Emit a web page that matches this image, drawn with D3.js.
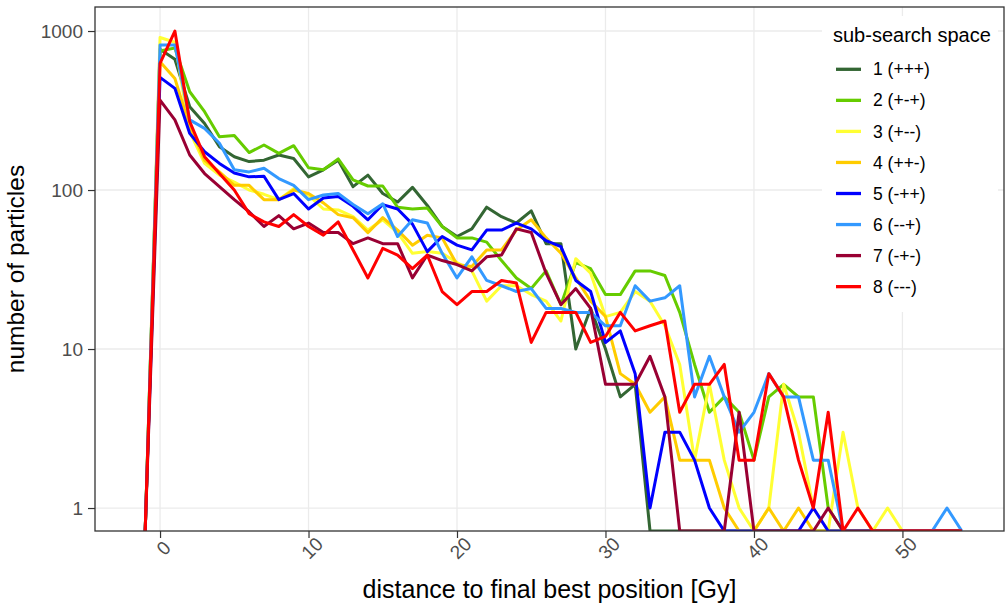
<!DOCTYPE html>
<html>
<head>
<meta charset="utf-8">
<script src="https://cdn.jsdelivr.net/npm/d3@7"></script>
<style>
body { margin: 0; background: #fff; }
text { font-family: "Liberation Sans", Arial, sans-serif; }
</style>
</head>
<body>
<svg id="chart" width="1005" height="604"></svg>
<script>
var distance = [-1,0,1,2,3,4,5,6,7,8,9,10,11,12,13,14,15,16,17,18,19,20,21,22,23,24,25,26,27,28,29,30,31,32,33,34,35,36,37,38,39,40,41,42,43,44,45,46,47,48,49,50,51,52,53,54];

var space1 = [0,767,664,334,262,187,162,151,154,166,158,121,134,154,105,124,95,84,104,80,59,51,57,78,68,62,74,46,46,10,18,10,5,6,0,0,0,0,0,0,0,0,0,0,0,0,0,0,0,0,0,0,0,0,0,0];
var space2 = [0,750,782,415,311,216,220,172,192,170,190,138,134,157,116,106,106,78,76,77,59,50,50,47,36,28,24,31,19,35,32,22,22,31,31,29,17,8,4,5,4,2,5,6,5,5,1,0,0,0,0,0,0,0,0,0];
var space3 = [0,910,850,233,147,124,112,100,94,87,102,93,76,75,68,56,65,54,40,41,40,35,31,20,25,25,22,20,15,37,30,16,17,23,20,14,8,2,6,2,1,0,1,6,3,1,0,3,1,0,1,0,0,0,0,0];
var space4 = [0,641,503,251,154,130,107,107,87,87,100,95,83,70,67,54,67,56,45,52,50,34,33,42,42,56,65,50,40,28,20,16,7,6,4,5,2,2,2,1,0,0,1,0,1,0,0,0,0,0,0,0,0,0,0,0];
var space5 = [0,511,436,227,174,147,128,121,122,87,95,76,89,91,79,65,81,76,61,41,51,45,42,56,56,62,57,48,44,27,23,11,13,7,1,3,3,2,1,0,0,0,0,0,0,1,0,0,0,0,0,0,0,0,0,0];
var space6 = [0,817,817,276,244,197,134,130,137,118,107,87,93,95,81,71,82,51,65,62,40,28,38,27,25,23,24,18,18,17,17,14,14,25,20,21,25,5,9,5,3,4,7,5,5,2,2,0,0,0,0,0,0,0,1,0];
var space7 = [0,368,276,166,127,105,87,73,59,69,57,62,54,54,46,50,46,46,28,39,36,34,31,38,39,57,54,30,19,24,18,6,6,6,9,5,0,0,0,0,4,0,0,0,0,0,1,0,0,0,0,0,0,0,0,0];
var space8 = [0,627,1000,269,162,127,100,71,63,59,70,59,52,63,42,28,43,39,32,39,23,19,23,23,27,26,11,17,17,17,11,12,17,13,14,15,4,6,6,8,2,2,7,5,2,1,4,0,1,0,0,0,0,0,0,0];

var seriesNames = ["1 (+++)", "2 (+-+)", "3 (+--)", "4 (++-)", "5 (-++)", "6 (--+)", "7 (-+-)", "8 (---)"];
var seriesColors = ["#336633", "#66CC00", "#FFFF33", "#FFCC00", "#0000FF", "#3399FF", "#990033", "#FF0000"];
var allSeries = [space1, space2, space3, space4, space5, space6, space7, space8];

var yTicks = [1, 10, 100, 1000];
var xTicks = [0, 10, 20, 30, 40, 50];

var plot = {left: 95, right: 1004, top: 7, bottom: 531};

var svg = d3.select("#chart");

var x = d3.scaleLinear()
	.domain([-4.38, 56.84])
	.range([plot.left, plot.right]);

var y = d3.scaleLog()
	.domain([0.717, 1416])
	.range([plot.bottom, plot.top]);

svg.append("defs").append("clipPath")
	.attr("id", "panel")
	.append("rect")
	.attr("x", plot.left)
	.attr("y", plot.top)
	.attr("width", plot.right - plot.left)
	.attr("height", plot.bottom - plot.top);

// grid
svg.append("g").selectAll("line")
	.data(yTicks)
	.enter()
	.append("line")
	.attr("x1", plot.left).attr("x2", plot.right)
	.attr("y1", function(d){ return y(d); })
	.attr("y2", function(d){ return y(d); })
	.attr("stroke", "#EBEBEB")
	.attr("stroke-width", 1.3);

svg.append("g").selectAll("line")
	.data(xTicks)
	.enter()
	.append("line")
	.attr("y1", plot.top).attr("y2", plot.bottom)
	.attr("x1", function(d){ return x(d); })
	.attr("x2", function(d){ return x(d); })
	.attr("stroke", "#EBEBEB")
	.attr("stroke-width", 1.3);

// lines
var lineGen = d3.line()
	.x(function(d){ return x(d[0]); })
	.y(function(d){ return d[1] > 0 ? y(d[1]) : plot.bottom; });

svg.append("g")
	.attr("clip-path", "url(#panel)")
	.selectAll("path")
	.data(allSeries)
	.enter()
	.append("path")
	.attr("d", function(s){ return lineGen(s.map(function(v, i){ return [distance[i], v]; })); })
	.attr("fill", "none")
	.attr("stroke", function(s, i){ return seriesColors[i]; })
	.attr("stroke-width", 3)
	.attr("stroke-linejoin", "round");

// axes
var yAxis = svg.append("g")
	.attr("transform", "translate(" + plot.left + ",0)")
	.call(d3.axisLeft(y).tickValues(yTicks).tickFormat(d3.format("d")).tickSize(7).tickPadding(5));

var xAxis = svg.append("g")
	.attr("transform", "translate(0," + plot.bottom + ")")
	.call(d3.axisBottom(x).tickValues(xTicks).tickSize(7));

[yAxis, xAxis].forEach(function(ax){
	ax.select(".domain").remove();
	ax.selectAll(".tick line").attr("stroke", "#333333").attr("stroke-width", 1.2);
	ax.selectAll(".tick text")
		.attr("fill", "#4D4D4D")
		.style("font-size", "19px")
		.style("font-family", "'Liberation Sans', Arial, sans-serif");
});

xAxis.selectAll(".tick text")
	.attr("y", 0)
	.attr("dy", "0.35em")
	.attr("text-anchor", "middle")
	.attr("transform", "translate(3,17) rotate(-45)");

// panel border
svg.append("rect")
	.attr("x", plot.left)
	.attr("y", plot.top)
	.attr("width", plot.right - plot.left)
	.attr("height", plot.bottom - plot.top)
	.attr("fill", "none")
	.attr("stroke", "#333333")
	.attr("stroke-width", 1.3);

// titles
svg.append("text")
	.attr("x", (plot.left + plot.right) / 2)
	.attr("y", 598)
	.attr("text-anchor", "middle")
	.style("font-size", "25px")
	.text("distance to final best position [Gy]");

svg.append("text")
	.attr("transform", "translate(23.5," + (plot.top + plot.bottom) / 2 + ") rotate(-90)")
	.attr("text-anchor", "middle")
	.style("font-size", "24.5px")
	.text("number of particles");

// legend
var legend = svg.append("g");
legend.append("rect")
	.attr("x", 822).attr("y", 16)
	.attr("width", 176).attr("height", 296)
	.attr("fill", "#fff");
legend.append("text")
	.attr("x", 833).attr("y", 42)
	.style("font-size", "20px")
	.text("sub-search space");

var items = legend.selectAll(".item")
	.data(seriesNames)
	.enter()
	.append("g")
	.attr("class", "item")
	.attr("transform", function(d, i){ return "translate(836," + (69.3 + i * 31.05) + ")"; });
items.append("line")
	.attr("x1", 0).attr("x2", 25)
	.attr("stroke", function(d, i){ return seriesColors[i]; })
	.attr("stroke-width", 3.3);
items.append("text")
	.attr("x", 37)
	.attr("dy", "0.35em")
	.style("font-size", "17.5px")
	.text(function(d){ return d; });
</script>
</body>
</html>
